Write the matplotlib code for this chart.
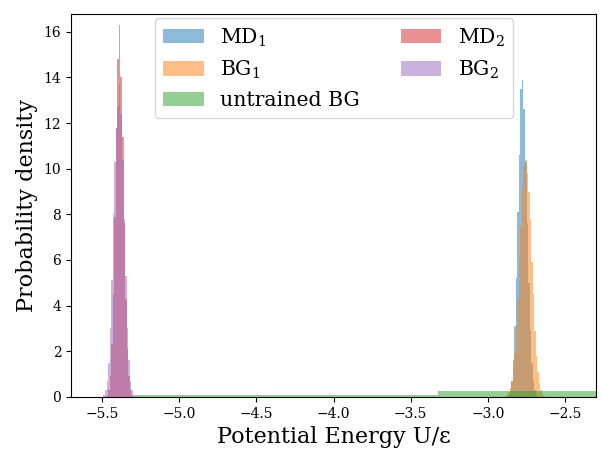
import matplotlib.pyplot as plt
import numpy as np

plt.rcParams["font.family"] = "DejaVu Serif"
plt.rcParams["mathtext.fontset"] = "dejavuserif"

# left peak: 0.01-wide bins starting at -5.52
left_start = -5.52
md2 = [0.0, 0.0, 0.0, 0.0, 0.0, 0.1, 0.3, 0.9, 2.3, 4.5, 7.9, 11.8, 14.8,
       16.3, 14.0, 11.4, 7.6, 4.3, 2.1, 0.9, 0.3, 0.1, 0.0, 0.0, 0.0]
bg2 = [0.0, 0.0, 0.0, 0.1, 0.3, 0.7, 1.5, 3.0, 5.1, 8.0, 10.3, 11.8, 12.7,
       13.7, 12.4, 10.4, 7.8, 5.3, 3.0, 1.6, 0.7, 0.3, 0.1, 0.0, 0.0]

# right peak: 0.01-wide bins starting at -2.92
right_start = -2.92
md1 = [0.0, 0.0, 0.0, 0.0, 0.0, 0.1, 0.3, 0.7, 1.6, 3.1, 5.2, 8.1, 10.6,
       13.5, 13.9, 12.6, 10.3, 7.6, 5.0, 2.9, 1.5, 0.7, 0.3, 0.1, 0.0,
       0.0, 0.0, 0.0, 0.0, 0.0]
bg1 = [0.0, 0.0, 0.0, 0.0, 0.1, 0.2, 0.4, 0.7, 1.2, 1.9, 3.1, 4.3, 6.1,
       7.5, 9.2, 10.1, 10.4, 9.8, 9.0, 7.8, 5.9, 4.5, 2.9, 1.8, 1.1,
       0.6, 0.3, 0.15, 0.05, 0.0]

# untrained generator: few very wide bins
untrained_edges = [-5.29, -3.32, -1.35]
untrained = [0.1, 0.26]

left_edges = left_start + 0.01 * np.arange(len(md2) + 1)
right_edges = right_start + 0.01 * np.arange(len(md1) + 1)

fig, ax = plt.subplots(figsize=(6.02, 4.54), dpi=100)
fig.subplots_adjust(left=0.118, right=0.99, bottom=0.126, top=0.97)

ax.stairs(md1, right_edges, fill=True, alpha=0.5, color="C0", label="MD$_1$")
ax.stairs(bg1, right_edges, fill=True, alpha=0.5, color="C1", label="BG$_1$")
ax.stairs(untrained, untrained_edges, fill=True, alpha=0.5, color="C2",
          label="untrained BG")
ax.stairs(md2, left_edges, fill=True, alpha=0.5, color="C3", label="MD$_2$")
ax.stairs(bg2, left_edges, fill=True, alpha=0.5, color="C4", label="BG$_2$")

ax.set_xlim(-5.7, -2.3)
ax.set_ylim(0, 16.8)
ax.set_xlabel("Potential Energy U/ε", fontsize=16)
ax.set_ylabel("Probability density", fontsize=16)
ax.tick_params(labelsize=10)

ax.legend(ncol=2, fontsize=14.7, loc="upper left",
          bbox_to_anchor=(0.14, 1.015))

fig.savefig("out.png", dpi=100)
